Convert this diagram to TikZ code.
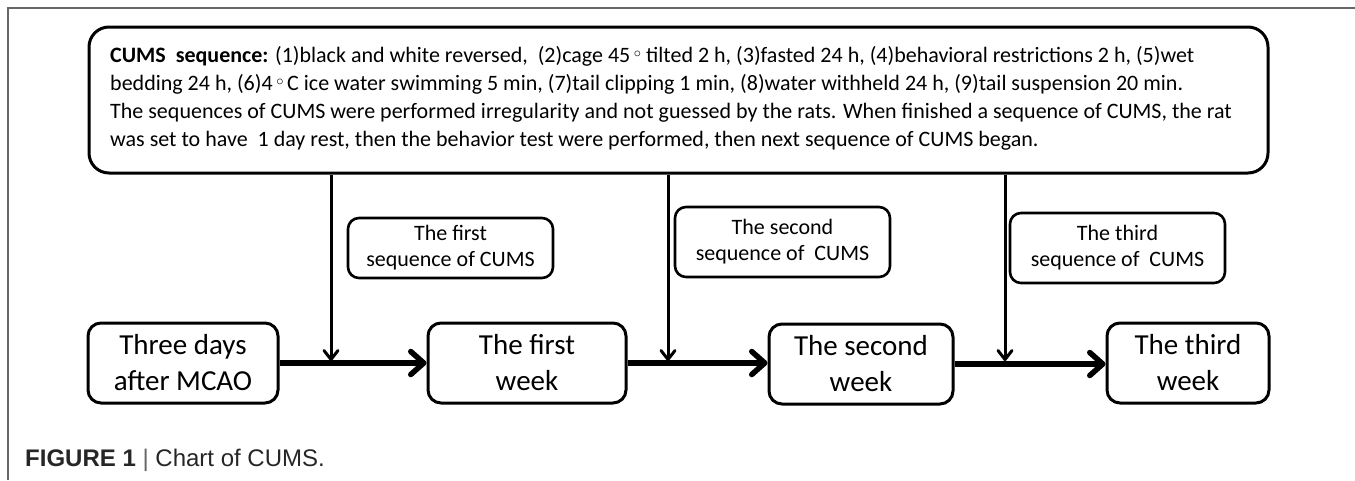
\documentclass[tikz,border=0pt]{standalone}
\usepackage{fontspec}
\setmainfont{Carlito}
\newfontfamily\capfont{Liberation Sans}
\usetikzlibrary{arrows.meta}
\newcommand{\degsym}{\raisebox{0.22em}{\ensuremath{\scriptstyle\circ}}}
\begin{document}
\begin{tikzpicture}[x=1pt,y=-1pt,
  frameline/.style={draw=black!60, line width=1.2pt},
  topbox/.style={draw, line width=3pt, rounded corners=20pt, minimum width=1179pt, minimum height=146pt, inner sep=0pt},
  toptxt/.style={anchor=north west, inner sep=0pt, align=left, font=\fontsize{22}{23}\selectfont},
  seqbox/.style={draw, line width=2.6pt, rounded corners=11pt, align=center, inner sep=0pt, font=\fontsize{22}{26}\selectfont},
  bigbox/.style={draw, line width=3pt, rounded corners=13pt, align=center, inner sep=0pt, font=\fontsize{29}{36}\selectfont, minimum height=80pt},
  flow/.style={line width=5.5pt, -{Straight Barb[length=13pt,width=23pt,round]}},
  drop/.style={line width=3pt, -{Straight Barb[length=9pt,width=14pt,round]}},
  captxt/.style={anchor=west, inner sep=0pt, text=black!85}]
\useasboundingbox (0,0) rectangle (1355,480);
% figure frame
\draw[frameline] (1355,8) -- (8,8) -- (8,480);
% top box
\node[topbox] (top) at (678.5,100) {};
\node[toptxt] (toptext) at (110,46) {\textbf{CUMS\ \ sequence:} (1)black and white reversed,\ \ (2)cage 45\,\degsym\ tilted 2 h, (3)fasted 24 h, (4)behavioral restrictions 2 h, (5)wet\\[5pt]
bedding 24 h, (6)4\,\degsym\,C ice water swimming 5 min, (7)tail clipping 1 min, (8)water withheld 24 h, (9)tail suspension 20 min.\\[5pt]
The sequences of CUMS were performed irregularity and not guessed by the rats. When finished a sequence of CUMS, the rat\\[5pt]
was set to have\ \ 1 day rest, then the behavior test were performed, then next sequence of CUMS began.};
% sequence boxes
\node[seqbox, minimum width=205pt, minimum height=60pt] (s1) at (450.5,248) {The first\\sequence of CUMS};
\node[seqbox, minimum width=215pt, minimum height=70pt] (s2) at (782.5,242) {The second\\sequence of\ \ CUMS};
\node[seqbox, minimum width=215pt, minimum height=70pt] (s3) at (1117.5,248) {The third\\sequence of\ \ CUMS};
% timeline boxes
\node[bigbox, minimum width=190pt] (b0) at (183,363) {Three days\\after MCAO};
\node[bigbox, minimum width=198pt] (b1) at (527,363) {The first\\week};
\node[bigbox, minimum width=184pt] (b2) at (861,364) {The second\\week};
\node[bigbox, minimum width=162pt] (b3) at (1188,363) {The third\\week};
% timeline arrows
\draw[flow] (b0.east) -- (b1.west);
\draw[flow] (b1.east) -- (b1.east -| b2.west);
\draw[flow] (b2.east) -- (b2.east -| b3.west);
% drop arrows
\coordinate (d1) at (331,361);
\coordinate (d2) at (668,361);
\coordinate (d3) at (1005,361);
\draw[drop] (top.south -| d1) -- (d1);
\draw[drop] (top.south -| d2) -- (d2);
\draw[drop] (top.south -| d3) -- (d3);
% caption
\node[captxt] (cap) at (25,460) {\capfont\fontsize{24}{26}\selectfont\textbf{FIGURE 1} {\color{black!60}|} Chart of CUMS.};
\end{tikzpicture}
\end{document}
